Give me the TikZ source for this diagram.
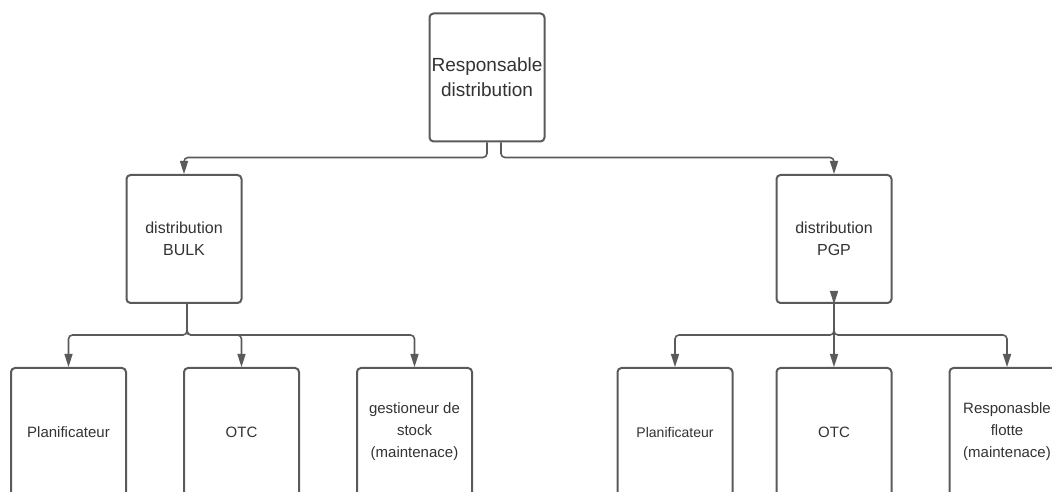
\documentclass[tikz,border=0pt]{standalone}
\usepackage{fontspec}
\setmainfont{Liberation Sans}
\usetikzlibrary{arrows.meta}

\definecolor{orgLine}{RGB}{90,90,90}
\definecolor{orgText}{RGB}{51,51,51}

\begin{document}
\begin{tikzpicture}[x=1pt,y=1pt,
  orgbox/.style={draw=orgLine, line width=2pt, rounded corners=4pt, fill=white,
    text=orgText, align=center, inner sep=2pt,
    minimum width=115pt, minimum height=128pt},
  link/.style={draw=orgLine, line width=1.6pt, rounded corners=4pt,
    -{Triangle[width=8pt,length=13pt]}}]
  \useasboundingbox (0,0) rectangle (1052,492);
  \clip (0,0) rectangle (1052,492);
  % Head of the chart
  \node[orgbox, font=\fontsize{19}{25}\selectfont] (resp) at (487,414.5) {Responsable\\distribution};
  % Two distribution branches
  \node[orgbox, font=\fontsize{16}{22}\selectfont] (bulk) at (184,253) {distribution\\BULK};
  \node[orgbox, font=\fontsize{16}{22}\selectfont] (pgp) at (834,253) {distribution\\PGP};
  % Teams under BULK
  \node[orgbox, font=\fontsize{15}{22}\selectfont] (bulkPlan) at (68.5,60) {Planificateur};
  \node[orgbox, font=\fontsize{15}{22}\selectfont] (bulkOtc) at (241.5,60) {OTC};
  \node[orgbox, font=\fontsize{15}{22}\selectfont] (bulkStock) at (414.5,60) {gestioneur de\\stock\\(maintenace)};
  % Teams under PGP
  \node[orgbox, font=\fontsize{14}{22}\selectfont] (pgpPlan) at (675,60) {Planificateur};
  \node[orgbox, font=\fontsize{15}{22}\selectfont] (pgpOtc) at (834,60) {OTC};
  \node[orgbox, font=\fontsize{15}{22}\selectfont] (pgpFlotte) at (1007,60) {Responasble\\flotte\\(maintenace)};
  % Links from the head
  \draw[link] (resp.south) -- ++(0,-15) -| (bulk.north);
  \draw[link] ([xshift=14pt]resp.south) -- ++(0,-15) -| (pgp.north);
  % Links from BULK
  \draw[link] ([xshift=3pt]bulk.south) -- ++(0,-31) -| (bulkPlan.north);
  \draw[link] ([xshift=3pt]bulk.south) -- ++(0,-31) -| (bulkOtc.north);
  \draw[link] ([xshift=3pt]bulk.south) -- ++(0,-31) -| (bulkStock.north);
  % Links from PGP
  \draw[link] ([yshift=11pt]pgp.south) -- (pgp.south);
  \draw[link] (pgp.south) -- ++(0,-31) -| (pgpPlan.north);
  \draw[link] (pgp.south) -- (pgpOtc.north);
  \draw[link] (pgp.south) -- ++(0,-31) -| (pgpFlotte.north);
\end{tikzpicture}
\end{document}
